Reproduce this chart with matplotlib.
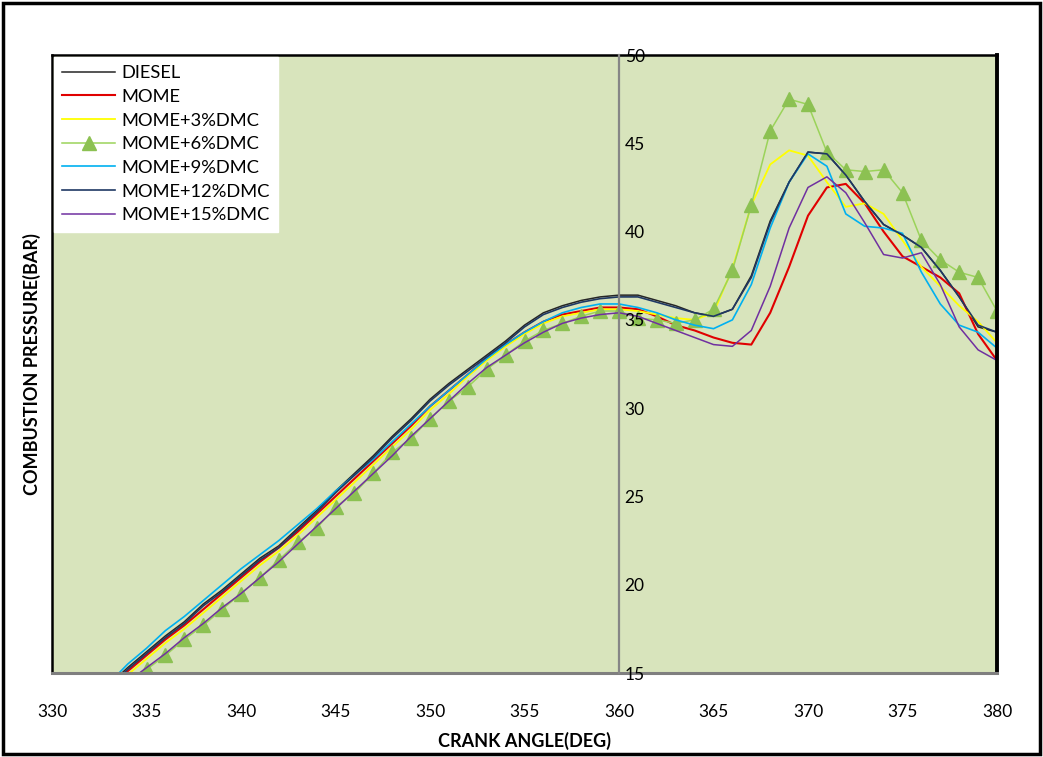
import matplotlib
matplotlib.use('Agg')
import matplotlib.pyplot as plt
from matplotlib.patches import Rectangle

plt.rcParams['font.family'] = ['Lato', 'DejaVu Sans']

crank = list(range(333, 381))

diesel = [14.3, 15.3, 16.2, 17.1, 17.9, 18.9, 19.7, 20.6, 21.5, 22.2,
          23.2, 24.2, 25.3, 26.3, 27.3, 28.4, 29.4, 30.5, 31.4, 32.2,
          33.0, 33.8, 34.7, 35.4, 35.8, 36.1, 36.3, 36.4, 36.4, 36.1,
          35.8, 35.4, 35.2, 35.6, 37.5, 40.6, 42.8, 44.5, 44.4, 43.2,
          41.7, 40.4, 39.8, 39.1, 37.8, 36.3, 34.6, 34.3]
mome = [14.2, 15.1, 16.0, 16.9, 17.7, 18.6, 19.5, 20.4, 21.3, 22.1,
        23.0, 24.0, 25.0, 26.0, 27.0, 28.0, 29.0, 30.1, 31.0, 31.9,
        32.8, 33.6, 34.3, 34.9, 35.3, 35.5, 35.7, 35.7, 35.6, 35.2,
        34.7, 34.4, 34.0, 33.7, 33.6, 35.4, 38.0, 40.9, 42.5, 42.7,
        41.6, 40.0, 38.6, 38.0, 37.4, 36.5, 34.2, 32.7]
dmc3 = [14.0, 14.9, 15.8, 16.7, 17.5, 18.4, 19.3, 20.2, 21.1, 21.9,
        22.8, 23.8, 24.8, 25.8, 26.8, 27.8, 28.8, 29.9, 30.8, 31.8,
        32.7, 33.5, 34.2, 34.8, 35.2, 35.4, 35.6, 35.6, 35.5, 35.3,
        35.1, 35.0, 35.4, 37.9, 41.5, 43.8, 44.6, 44.3, 42.8, 41.4,
        41.6, 41.0, 39.5, 38.0, 36.9, 35.8, 34.9, 33.7]
dmc6_crank = list(range(335, 381))
dmc6 = [15.2, 16.0, 16.9, 17.7, 18.6, 19.5, 20.4, 21.4, 22.4, 23.2,
        24.4, 25.2, 26.3, 27.5, 28.3, 29.4, 30.4, 31.2, 32.2, 33.0,
        33.8, 34.4, 34.8, 35.2, 35.5, 35.5, 35.1, 35.0, 34.8, 35.0,
        35.6, 37.8, 41.5, 45.7, 47.5, 47.2, 44.5, 43.5, 43.4, 43.5,
        42.2, 39.5, 38.4, 37.7, 37.4, 35.5]
dmc9 = [14.4, 15.5, 16.4, 17.4, 18.2, 19.1, 20.0, 20.9, 21.7, 22.5,
        23.4, 24.3, 25.3, 26.2, 27.1, 28.1, 29.1, 30.1, 31.0, 31.9,
        32.8, 33.6, 34.3, 34.9, 35.4, 35.7, 35.9, 35.9, 35.7, 35.4,
        35.0, 34.7, 34.5, 35.0, 37.0, 40.2, 42.8, 44.4, 43.7, 41.0,
        40.3, 40.2, 39.9, 37.7, 35.9, 34.7, 34.3, 33.4]
dmc12 = [14.2, 15.2, 16.1, 17.0, 17.8, 18.8, 19.6, 20.5, 21.4, 22.1,
         23.1, 24.1, 25.2, 26.2, 27.2, 28.3, 29.3, 30.4, 31.3, 32.1,
         32.9, 33.7, 34.6, 35.3, 35.7, 36.0, 36.2, 36.3, 36.3, 36.0,
         35.7, 35.4, 35.2, 35.6, 37.4, 40.5, 42.8, 44.5, 44.4, 43.2,
         41.7, 40.4, 39.8, 39.1, 37.8, 36.3, 34.7, 34.3]
dmc15 = [13.6, 14.5, 15.3, 16.1, 17.0, 17.8, 18.7, 19.5, 20.4, 21.3,
         22.3, 23.3, 24.3, 25.3, 26.3, 27.3, 28.4, 29.4, 30.4, 31.4,
         32.3, 33.0, 33.7, 34.3, 34.8, 35.1, 35.3, 35.4, 35.2, 34.8,
         34.4, 34.0, 33.6, 33.5, 34.4, 36.9, 40.2, 42.5, 43.1, 42.2,
         40.5, 38.7, 38.5, 38.8, 37.0, 34.6, 33.3, 32.7]

y_ticks = [15, 20, 25, 30, 35, 40, 45, 50]
x_ticks = list(range(330, 381, 5))

fig = plt.figure(figsize=(10.43, 7.57), dpi=100)
ax = fig.add_axes([52 / 1043, 84 / 757, 945 / 1043, 618 / 757])
ax.set_facecolor('#d8e4bc')

ax.plot(crank, diesel, color='#262626', lw=1.1, label='DIESEL')
ax.plot(crank, mome, color='#e00000', lw=1.5, label='MOME')
ax.plot(crank, dmc3, color='#ffff00', lw=1.3, label='MOME+3%DMC')
ax.plot(dmc6_crank, dmc6, color='#9bd35a', lw=1.1, marker='^', ms=10,
        mfc='#8cc152', mec='#8cc152', label='MOME+6%DMC')
ax.plot(crank, dmc9, color='#00b0f0', lw=1.2, label='MOME+9%DMC')
ax.plot(crank, dmc12, color='#1f3864', lw=1.2, label='MOME+12%DMC')
ax.plot(crank, dmc15, color='#7030a0', lw=1.1, label='MOME+15%DMC')

ax.set_xlim(330, 380)
ax.set_ylim(15, 50)
ax.set_xticks(x_ticks)
ax.set_yticks([])
ax.tick_params(axis='x', length=0, pad=22, labelsize=12.5)

for side in ['left', 'top']:
    ax.spines[side].set_color('black')
    ax.spines[side].set_linewidth(1.8)
ax.spines['right'].set_color('black')
ax.spines['right'].set_linewidth(2.8)
ax.spines['bottom'].set_color('#7f7f7f')
ax.spines['bottom'].set_linewidth(2.2)

# value axis crosses at 360 deg, as in the spreadsheet chart
sec = ax.secondary_yaxis(0.6)
sec.set_yticks(y_ticks)
sec.tick_params(axis='y', length=0, pad=4, labelsize=12.5)
for sp in sec.spines.values():
    sp.set_color('#868686')
    sp.set_linewidth(1.6)
sec.set_zorder(4)

ax.set_xlabel('CRANK ANGLE(DEG)', fontsize=13, fontweight='bold')
ax.xaxis.set_label_coords(0.5, -0.095)
ax.set_ylabel('COMBUSTION PRESSURE(BAR)', fontsize=13, fontweight='bold')
ax.yaxis.set_label_coords(-0.012, 0.5)

leg = ax.legend(loc='upper left', bbox_to_anchor=(0.002, 0.997), borderaxespad=0,
                frameon=True, fancybox=False, fontsize=13.2, handlelength=2.9,
                handletextpad=0.35, labelspacing=0.42, borderpad=0.45)
leg.get_frame().set_facecolor('white')
leg.get_frame().set_edgecolor('white')
leg.get_frame().set_alpha(1)
leg.set_zorder(6)

fig.patches.append(Rectangle((0.003, 0.004), 0.994, 0.992, transform=fig.transFigure,
                             fill=False, edgecolor='black', linewidth=2.5))

fig.savefig('out.png', dpi=100)
